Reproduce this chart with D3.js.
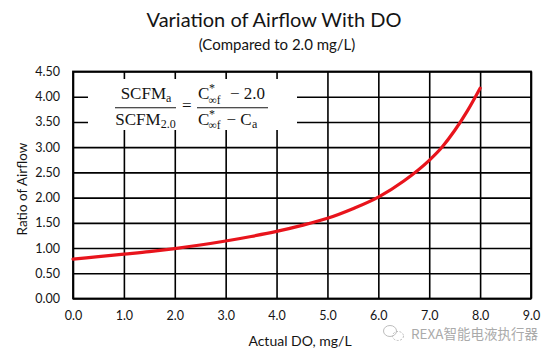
<!DOCTYPE html>
<html><head><meta charset="utf-8">
<script src="https://cdn.jsdelivr.net/npm/d3@7"></script>
<style>body{margin:0;background:#fff} svg{display:block}</style>
</head><body><svg id="c" width="550" height="358"></svg>
<script>
// Data
const doValues      = [0, 0.5, 1, 1.5, 2, 2.5, 3, 3.5, 4, 4.5, 5, 5.5, 6, 6.5, 7, 7.25, 7.5, 7.75, 8];
const airflowRatio  = [0.78, 0.83, 0.88, 0.93, 0.99, 1.06, 1.14, 1.23, 1.33, 1.45, 1.59, 1.78, 2.01, 2.33, 2.74, 3.00, 3.33, 3.72, 4.17];
const xTickValues   = [0, 1, 2, 3, 4, 5, 6, 7, 8, 9];
const yTickValues   = [0, 0.5, 1, 1.5, 2, 2.5, 3, 3.5, 4, 4.5];
const titleText     = "Variation of Airflow With DO";
const subtitleText  = "(Compared to 2.0 mg/L)";
const xTitleText    = "Actual DO, mg/L";
const yTitleText    = "Ratio of Airflow";
const watermarkText = "REXA智能电液执行器";

const svg = d3.select("#c");
const L = 73, R = 531, T = 71.5, B = 298.5;
const x = d3.scaleLinear().domain([0, 9]).range([L, R]);
const y = d3.scaleLinear().domain([0, 4.5]).range([B, T]);
const font = "Lato, 'Open Sans', sans-serif";
const ink = "#141414";

// Y grid + labels
const gy = svg.append("g").attr("transform", `translate(${L},0)`)
  .call(d3.axisLeft(y).tickValues(yTickValues).tickFormat(d3.format(".2f"))
        .tickSize(-(R - L)).tickPadding(13));
gy.select(".domain").remove();
gy.selectAll("line").attr("stroke", "#000").attr("stroke-width", 1.6);
gy.selectAll("text").attr("font-family", font).attr("font-size", 12.5).attr("fill", ink);

// X grid + labels
const gx = svg.append("g").attr("transform", `translate(0,${B})`)
  .call(d3.axisBottom(x).tickValues(xTickValues).tickFormat(d3.format(".1f"))
        .tickSize(-(B - T)).tickPadding(13));
gx.select(".domain").remove();
gx.selectAll("line").attr("stroke", "#000").attr("stroke-width", 1.6);
gx.selectAll("text").attr("font-family", font).attr("font-size", 12.5).attr("fill", ink);

// Border
svg.append("rect").attr("x", L).attr("y", T).attr("width", R - L).attr("height", B - T)
  .attr("fill", "none").attr("stroke", "#000").attr("stroke-width", 1.8);

// Formula box (white, hides grid)
svg.append("rect").attr("x", 88).attr("y", 79).attr("width", 209).attr("height", 51).attr("fill", "#fff");

// Curve
const line = d3.line().x((d, i) => x(doValues[i])).y(d => y(d)).curve(d3.curveMonotoneX);
svg.append("path").datum(airflowRatio).attr("d", line)
  .attr("fill", "none").attr("stroke", "#e8141c").attr("stroke-width", 3.2)
  .attr("stroke-linecap", "round");

// Formula
const ff = "'Liberation Serif', 'DejaVu Serif', serif";
const fg = svg.append("g").attr("font-family", ff).attr("fill", ink);
function t(xp, yp, s, size) {
  return fg.append("text").attr("x", xp).attr("y", yp).attr("font-size", size).text(s);
}
function frac(cx, yp, main, sub) {
  const tx = fg.append("text").attr("x", cx).attr("y", yp).attr("text-anchor", "middle").attr("font-size", 17);
  tx.append("tspan").text(main);
  tx.append("tspan").attr("font-size", 12).attr("dy", 3).text(sub);
}
// left fraction
frac(146, 99, "SCFM", "a");
frac(145.5, 124.5, "SCFM", "2.0");
fg.append("line").attr("x1", 115).attr("x2", 176).attr("y1", 107.7).attr("y2", 107.7)
  .attr("stroke", ink).attr("stroke-width", 1.1);
t(182, 111, "=", 17);
// right fraction
t(198, 99, "C", 17); t(209, 92, "*", 12); t(208.5, 103.5, "∞f", 11.5); t(230, 99, "− 2.0", 17);
fg.append("line").attr("x1", 197).attr("x2", 268).attr("y1", 107.7).attr("y2", 107.7)
  .attr("stroke", ink).attr("stroke-width", 1.1);
t(198, 124.5, "C", 17); t(209, 117.5, "*", 12); t(208.5, 129, "∞f", 11.5); t(226.5, 124.5, "− C", 17); t(252, 127.5, "a", 12);

// Titles
svg.append("text").attr("x", 274).attr("y", 27).attr("text-anchor", "middle")
  .attr("font-family", font).attr("font-size", 20).attr("fill", ink).text(titleText);
svg.append("text").attr("x", 277).attr("y", 50).attr("text-anchor", "middle")
  .attr("font-family", font).attr("font-size", 15).attr("fill", ink).text(subtitleText);
svg.append("text").attr("x", 300).attr("y", 346).attr("text-anchor", "middle")
  .attr("font-family", font).attr("font-size", 14).attr("fill", ink).text(xTitleText);
svg.append("text").attr("transform", "translate(26.5,189) rotate(-90)").attr("text-anchor", "middle")
  .attr("font-family", font).attr("font-size", 13.5).attr("fill", ink).text(yTitleText);

// Watermark
const wm = svg.append("g").attr("fill", "none").attr("stroke", "#bdbdbd").attr("stroke-width", 1);
wm.append("ellipse").attr("cx", 390).attr("cy", 331).attr("rx", 6.5).attr("ry", 5.5);
wm.append("ellipse").attr("cx", 398).attr("cy", 336).attr("rx", 5.5).attr("ry", 4.5).attr("stroke-dasharray", "2,1.5");
svg.append("text").attr("x", 411).attr("y", 338.5).attr("font-family", "'Noto Sans CJK SC', sans-serif")
  .attr("font-size", 13.5).attr("fill", "#aaaaaa").text(watermarkText);
</script></body></html>
